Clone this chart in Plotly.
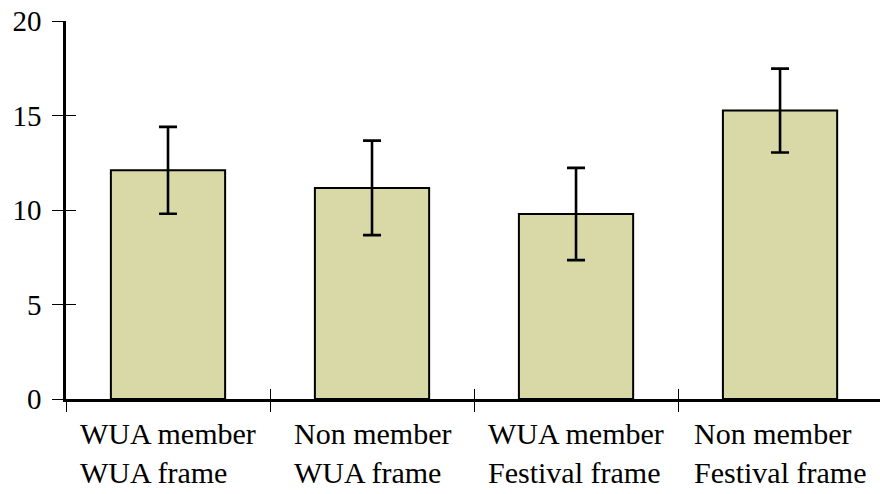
import plotly.graph_objects as go

# Respondent group and framing condition for each bar
groups = ["WUA member", "Non member", "WUA member", "Non member"]
frames = ["WUA frame", "WUA frame", "Festival frame", "Festival frame"]

# Mean contribution and its error half-width
means = [12.1, 11.17, 9.79, 15.26]
errors = [2.3, 2.5, 2.44, 2.22]

y_ticks = [0, 5, 10, 15, 20]

FONT = dict(family="Liberation Serif", size=29, color="black")
LABEL_FONT = dict(family="Liberation Serif", size=30, color="black")
BAR_FILL = "rgb(216,217,166)"

n = len(means)
xpos = list(range(n))
boundaries = [i - 0.5 for i in range(n)]

fig = go.Figure()
fig.add_trace(go.Bar(
    x=xpos, y=means, width=0.56,
    marker=dict(color=BAR_FILL, line=dict(color="black", width=2)),
    error_y=dict(type="data", array=errors, visible=True,
                 color="black", thickness=2.6, width=9),
    showlegend=False, hoverinfo="skip",
))
# empty trace on the overlay axes that carry the inward tick halves
fig.add_trace(go.Scatter(x=[None], y=[None], xaxis="x2", yaxis="y2",
                         showlegend=False, hoverinfo="skip"))

xrange = [-0.5, n - 0.51]
yrange = [0, 20]

fig.update_layout(
    width=880, height=494,
    margin=dict(l=66, r=0, t=21, b=95),
    paper_bgcolor="white", plot_bgcolor="white",
    font=FONT,
    xaxis=dict(range=xrange, showgrid=False, zeroline=False,
               showline=True, linecolor="black", linewidth=2.5,
               tickmode="array", tickvals=boundaries,
               ticks="outside", ticklen=10, tickwidth=1.2, tickcolor="black",
               showticklabels=False),
    yaxis=dict(range=yrange, showgrid=False, zeroline=False,
               showline=True, linecolor="black", linewidth=2.5,
               tickmode="array", tickvals=y_ticks,
               ticks="outside", ticklen=11, tickwidth=1.2, tickcolor="black",
               tickfont=FONT, ticklabelstandoff=5),
    xaxis2=dict(range=xrange, overlaying="x", anchor="y2", side="bottom",
                showgrid=False, zeroline=False, showline=False,
                tickmode="array", tickvals=boundaries,
                ticks="inside", ticklen=10, tickwidth=1.2, tickcolor="black",
                showticklabels=False),
    yaxis2=dict(range=yrange, overlaying="y", anchor="x2", side="left",
                showgrid=False, zeroline=False, showline=False,
                tickmode="array", tickvals=y_ticks,
                ticks="inside", ticklen=10, tickwidth=1.2, tickcolor="black",
                showticklabels=False),
)

for i, (g, f) in enumerate(zip(groups, frames)):
    fig.add_annotation(
        x=i, y=0, xref="x", yref="y",
        text=f"{g}<br>{f}", align="left",
        xanchor="center", yanchor="top", yshift=-16,
        showarrow=False, font=LABEL_FONT,
    )

fig.write_html("out.html")
